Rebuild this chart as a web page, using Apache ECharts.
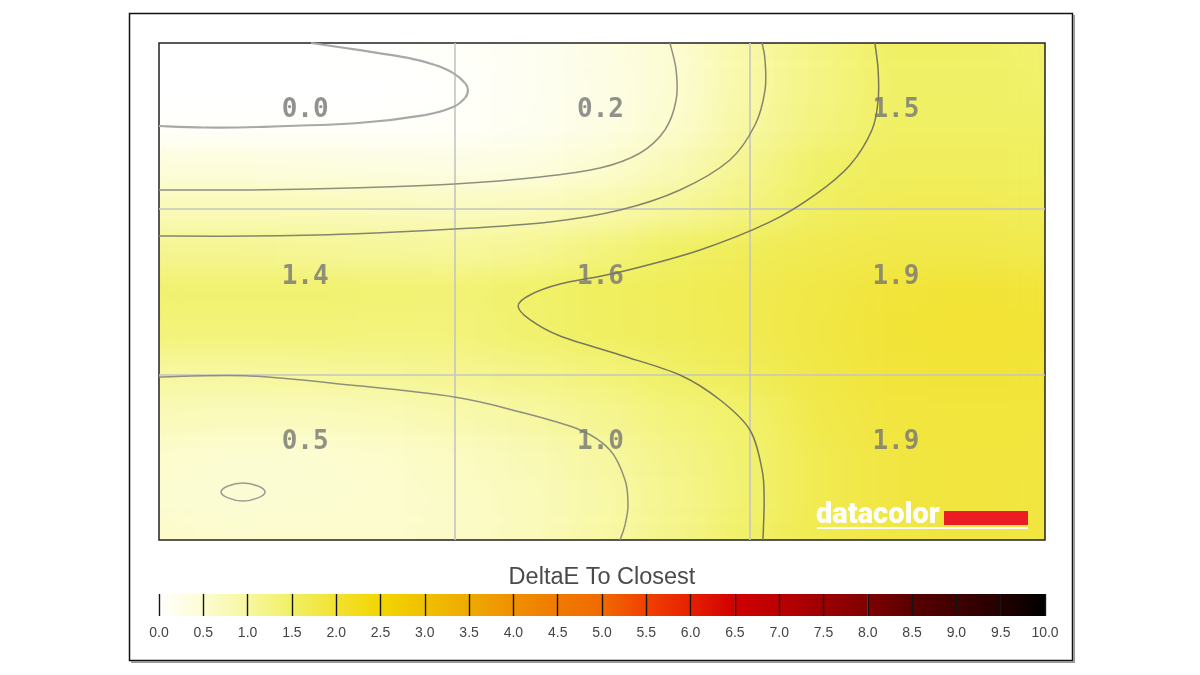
<!DOCTYPE html>
<html>
<head>
<meta charset="utf-8">
<title>DeltaE To Closest</title>
<script src="https://cdn.jsdelivr.net/npm/echarts@6/dist/echarts.min.js"></script>
<style>
    html, body { margin: 0; padding: 0; background: #fff; }
    #clip { position: absolute; left: 159px; top: 43px; width: 886px; height: 497px; overflow: hidden; }
    #surface { position: absolute; left: -37px; top: -21px; width: 960px; height: 539px; filter: url(#soften); }
    #chart { position: absolute; left: 0; top: 0; width: 1200px; height: 675px; }
</style>
</head>
<body>
<svg width="0" height="0" style="position:absolute">
    <filter id="soften" x="-10%" y="-10%" width="120%" height="120%" color-interpolation-filters="sRGB">
        <feGaussianBlur stdDeviation="25 12"/>
        <feComponentTransfer>
            <feFuncA type="linear" slope="3"/>
        </feComponentTransfer>
    </filter>
</svg>
<div id="clip"><div id="surface"></div></div>
<div id="chart"></div>
<script>
// values, 13 samples across and 13 down the plot
const row0 = [0, 0, 0, 0.02, 0.08, 0.15, 0.3, 0.5, 0.95, 1.25, 1.5, 1.48, 1.42];
const row1 = [0, 0, 0, 0, 0.03, 0.14, 0.28, 0.5, 0.95, 1.25, 1.48, 1.48, 1.45];
const row2 = [0.05, 0.05, 0.05, 0.06, 0.08, 0.16, 0.3, 0.55, 1.0, 1.28, 1.5, 1.5, 1.5];
const row3 = [0.38, 0.38, 0.36, 0.33, 0.3, 0.35, 0.52, 0.78, 1.15, 1.48, 1.58, 1.58, 1.55];
const row4 = [0.75, 0.75, 0.75, 0.72, 0.68, 0.72, 0.85, 1.05, 1.28, 1.55, 1.65, 1.65, 1.62];
const row5 = [1.12, 1.12, 1.08, 1.05, 1.03, 1.1, 1.28, 1.5, 1.6, 1.7, 1.75, 1.75, 1.72];
const row6 = [1.4, 1.4, 1.4, 1.38, 1.35, 1.45, 1.55, 1.62, 1.7, 1.8, 1.93, 1.95, 1.92];
const row7 = [1.32, 1.32, 1.32, 1.3, 1.3, 1.42, 1.52, 1.6, 1.7, 1.82, 1.95, 1.98, 1.96];
const row8 = [1.0, 1.0, 1.03, 1.07, 1.12, 1.2, 1.32, 1.48, 1.62, 1.8, 1.92, 1.95, 1.94];
const row9 = [0.75, 0.72, 0.72, 0.75, 0.85, 0.97, 1.12, 1.32, 1.45, 1.75, 1.88, 1.9, 1.9];
const row10 = [0.55, 0.5, 0.5, 0.55, 0.65, 0.78, 0.98, 1.2, 1.42, 1.7, 1.85, 1.88, 1.88];
const row11 = [0.5, 0.48, 0.5, 0.52, 0.6, 0.72, 0.9, 1.15, 1.42, 1.7, 1.85, 1.88, 1.86];
const row12 = [0.58, 0.55, 0.55, 0.55, 0.6, 0.72, 0.95, 1.18, 1.48, 1.7, 1.82, 1.86, 1.85];
const surfaceRows = [row0, row1, row2, row3, row4, row5, row6, row7, row8, row9, row10, row11, row12];

// patch readings, 3 x 3, columns then rows in cell units
const patchLabels = ['0.0', '0.2', '1.5', '1.4', '1.6', '1.9', '0.5', '1.0', '1.9'];
const patchX = [0.495, 1.495, 2.495, 0.495, 1.495, 2.495, 0.495, 1.495, 2.495];
const patchY = [0.405, 0.405, 0.405, 1.415, 1.415, 1.415, 2.41, 2.41, 2.41];

// contour lines in cell units
const contourA = [[0.515, 0], [0.674, 0.042], [0.843, 0.09], [0.935, 0.133], [0.995, 0.18], [1.036, 0.241], [1.046, 0.283], [1.036, 0.332], [0.995, 0.387], [0.9, 0.435], [0.674, 0.483], [0.335, 0.507], [0.15, 0.51], [0, 0.501]];
const contourB = [[0, 0.887], [0.308, 0.887], [0.647, 0.875], [1, 0.851], [1.29, 0.809], [1.493, 0.755], [1.629, 0.664], [1.713, 0.525], [1.751, 0.344], [1.751, 0.163], [1.73, 0]];
const contourC = [[0, 1.165], [0.308, 1.165], [0.647, 1.153], [1, 1.123], [1.324, 1.08], [1.561, 1.008], [1.764, 0.887], [1.933, 0.706], [2.018, 0.495], [2.052, 0.284], [2.052, 0.103], [2.042, 0]];
const contourD = [[2.424, 0], [2.435, 0.163], [2.435, 0.344], [2.414, 0.525], [2.34, 0.736], [2.221, 0.917], [2.069, 1.08], [1.832, 1.249], [1.561, 1.382], [1.358, 1.455], [1.256, 1.521], [1.216, 1.587], [1.256, 1.67], [1.358, 1.769], [1.561, 1.883], [1.764, 2.004], [1.9, 2.155], [2.001, 2.336], [2.042, 2.577], [2.049, 2.759], [2.045, 3]];
const contourE = [[0, 2.016], [0.308, 2.01], [0.647, 2.064], [1, 2.137], [1.222, 2.227], [1.426, 2.336], [1.527, 2.457], [1.578, 2.638], [1.588, 2.789], [1.578, 2.909], [1.561, 3]];
const contourF = [[0.21, 2.71], [0.234, 2.674], [0.284, 2.656], [0.335, 2.674], [0.359, 2.71], [0.335, 2.746], [0.284, 2.765], [0.234, 2.746], [0.21, 2.71]];
const contourColors = ['#a8a8a8', '#8f8f80', '#85856f', '#77775e', '#8f8f7c', '#9a9a90'];

// colour scale, one colour per legend tick
const scaleTicks = [0, 0.5, 1, 1.5, 2, 2.5, 3, 3.5, 4, 4.5, 5, 5.5, 6, 6.5, 7, 7.5, 8, 8.5, 9, 9.5, 10];
const scaleColors = ['#ffffff', '#fcfcd2', '#f7f7a0', '#f0f064', '#f2e232', '#f2d600', '#f0c000', '#eeaa00', '#f09000', '#f07a00', '#f06a00', '#f04000', '#e62000', '#d00000', '#bc0000', '#9c0000', '#800000', '#580000', '#400000', '#240000', '#000000'];

var surfaceData = [];
surfaceRows.forEach(function (row, r) {
    row.forEach(function (v, c) {
        surfaceData.push([c, r, v]);
    });
});

var surface = echarts.init(document.getElementById('surface'));
surface.setOption({
    animation: false,
    grid: { left: 0, right: 0, top: 0, bottom: 0 },
    xAxis: { type: 'category', show: false, data: row0.map(function (v, i) { return i; }) },
    yAxis: { type: 'category', show: false, inverse: true, data: surfaceRows.map(function (v, i) { return i; }) },
    visualMap: { show: false, min: 0, max: 10, inRange: { color: scaleColors } },
    series: [{ type: 'heatmap', data: surfaceData, progressive: 0 }]
});

// the line series clamps its smooth control points and kinks on these curves,
// so each contour is drawn as bezier segments through its points
var contourSeries = [contourA, contourB, contourC, contourD, contourE, contourF].map(function (line, n) {
    return {
        type: 'custom',
        xAxisIndex: 0,
        yAxisIndex: 0,
        silent: true,
        z: 3,
        data: line,
        renderItem: function (params, api) {
            var i = params.dataIndex;
            if (i >= line.length - 1) {
                return null;
            }
            var closed = line[0][0] == line[line.length - 1][0] && line[0][1] == line[line.length - 1][1];
            var prev = line[i - 1] || (closed ? line[line.length - 2] : line[i]);
            var next = line[i + 2] || (closed ? line[1] : line[i + 1]);
            var p0 = api.coord(prev);
            var p1 = api.coord(line[i]);
            var p2 = api.coord(line[i + 1]);
            var p3 = api.coord(next);
            return {
                type: 'bezierCurve',
                shape: {
                    x1: p1[0], y1: p1[1], x2: p2[0], y2: p2[1],
                    cpx1: p1[0] + (p2[0] - p0[0]) / 6, cpy1: p1[1] + (p2[1] - p0[1]) / 6,
                    cpx2: p2[0] - (p3[0] - p1[0]) / 6, cpy2: p2[1] - (p3[1] - p1[1]) / 6
                },
                style: { fill: 'none', stroke: contourColors[n], lineWidth: n == 0 ? 2.2 : 1.5 }
            };
        }
    };
});

var chart = echarts.init(document.getElementById('chart'));
chart.setOption({
    animation: false,
    graphic: [
        {
            type: 'rect', z: 0,
            shape: { x: 129.5, y: 13.5, width: 943, height: 647 },
            style: { fill: 'transparent', stroke: '#111', lineWidth: 1.5 }
        },
        {
            type: 'polyline', z: 0,
            shape: { points: [[1074, 15], [1074, 662], [131, 662]] },
            style: { fill: 'none', stroke: '#999', lineWidth: 2 }
        },
        {
            type: 'text', z: 10, x: 602, y: 578,
            style: { text: 'DeltaE To Closest', fontFamily: 'Liberation Sans', fontSize: 23.5, fill: '#4a4a4a', align: 'center', verticalAlign: 'middle' }
        },
        // logo
        {
            type: 'text', z: 10, x: 816, y: 530,
            style: { text: 'datacolor', fontFamily: 'Roboto', fontWeight: 900, fontSize: 29, fill: '#fff', verticalAlign: 'bottom' }
        },
        { type: 'rect', z: 10, shape: { x: 944, y: 511, width: 84, height: 14 }, style: { fill: '#ed1c24' } },
        { type: 'rect', z: 10, shape: { x: 817, y: 527, width: 211, height: 2 }, style: { fill: '#fff' } }
    ],
    grid: [
        { left: 159, top: 43, width: 886, height: 497, show: true, borderColor: '#222', borderWidth: 1.5, backgroundColor: 'transparent' },
        { left: 159, top: 594, width: 886, height: 22 }
    ],
    xAxis: [
        {
            type: 'value', gridIndex: 0, min: 0, max: 3, interval: 1,
            axisLine: { show: false }, axisTick: { show: false }, axisLabel: { show: false },
            splitLine: { show: true, showMinLine: false, showMaxLine: false, lineStyle: { color: '#c4c4c4', width: 1.6 } }
        },
        {
            type: 'value', gridIndex: 1, min: 0, max: 10, interval: 0.5, z: 5,
            axisLine: { show: false },
            axisTick: { show: true, inside: true, length: 22, lineStyle: { color: '#151515', width: 1.4 } },
            axisLabel: {
                margin: 10, fontFamily: 'Liberation Sans', fontSize: 14, color: '#444',
                showMinLabel: true, showMaxLabel: true, hideOverlap: false,
                formatter: function (v) { return v.toFixed(1); }
            },
            splitLine: { show: false }
        }
    ],
    yAxis: [
        {
            type: 'value', gridIndex: 0, min: 0, max: 3, interval: 1, inverse: true,
            axisLine: { show: false }, axisTick: { show: false }, axisLabel: { show: false },
            splitLine: { show: true, showMinLine: false, showMaxLine: false, lineStyle: { color: '#c4c4c4', width: 1.6 } }
        },
        { type: 'value', gridIndex: 1, min: 0, max: 1, show: false }
    ],
    series: contourSeries.concat([
        {
            type: 'scatter',
            xAxisIndex: 0,
            yAxisIndex: 0,
            symbolSize: 1,
            itemStyle: { color: 'transparent' },
            silent: true,
            z: 4,
            data: patchLabels.map(function (t, i) { return [patchX[i], patchY[i], t]; }),
            label: {
                show: true,
                position: 'inside',
                formatter: function (p) { return p.value[2]; },
                fontFamily: 'DejaVu Sans Mono',
                fontWeight: 'bold',
                fontSize: 26,
                color: '#767676'
            }
        },
        {
            type: 'custom',
            xAxisIndex: 1,
            yAxisIndex: 1,
            silent: true,
            z: 1,
            data: scaleTicks.slice(0, -1).map(function (t, i) { return [t, scaleTicks[i + 1], i]; }),
            encode: { x: [0, 1] },
            renderItem: function (params, api) {
                var a = api.coord([api.value(0), 1]);
                var b = api.coord([api.value(1), 0]);
                var i = api.value(2);
                return {
                    type: 'rect',
                    shape: { x: a[0], y: a[1], width: b[0] - a[0], height: b[1] - a[1] },
                    style: {
                        fill: new echarts.graphic.LinearGradient(0, 0, 1, 0, [
                            { offset: 0, color: scaleColors[i] },
                            { offset: 1, color: scaleColors[i + 1] }
                        ])
                    }
                };
            }
        }
    ])
});
</script>
</body>
</html>
